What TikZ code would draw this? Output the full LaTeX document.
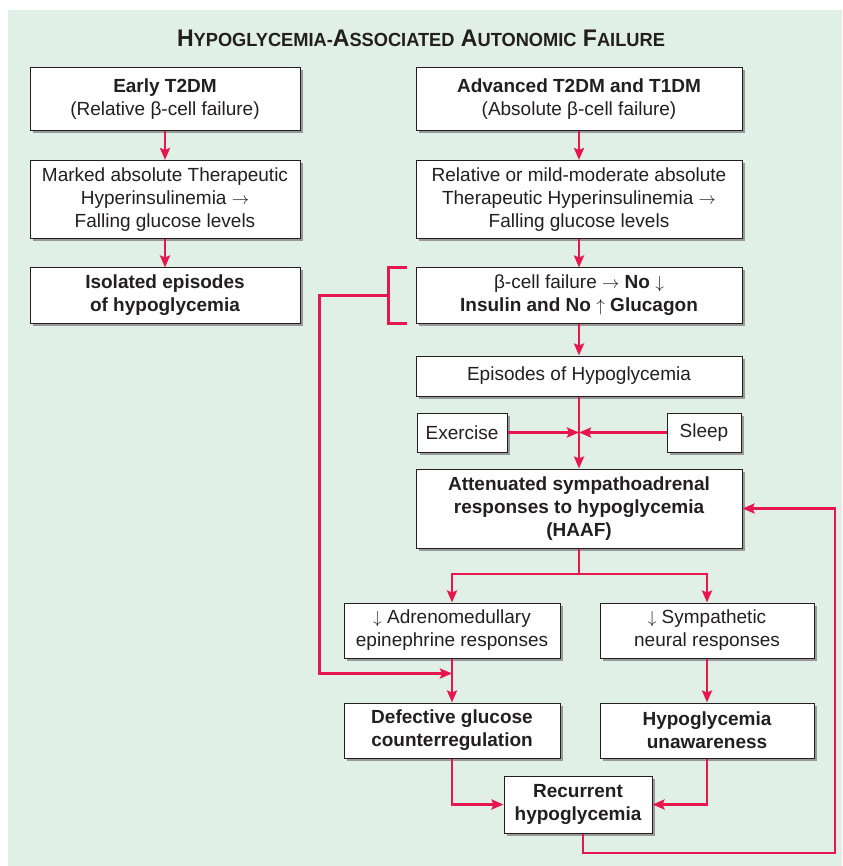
\documentclass[tikz,border=0pt]{standalone}
\usepackage{amsmath}
\usepackage{amssymb}
\usepackage{graphicx}
\usepackage{fontspec}
\setmainfont{Liberation Sans}
\usepackage{tikz}
\usetikzlibrary{arrows.meta, calc, shadows}

\definecolor{bggreen}{RGB}{225,240,230}
\definecolor{linkred}{RGB}{232,22,78}
\definecolor{inkgray}{RGB}{35,31,32}
\newcommand{\titlesmall}[1]{{\fontsize{19}{22}\selectfont #1}}

\begin{document}
\begin{tikzpicture}[x=1pt, y=-1pt,
    every node/.style={text=inkgray, font=\fontsize{19}{23}\selectfont},
    box/.style={draw=inkgray, fill=white, line width=1pt, align=center, inner sep=0pt,
        drop shadow={shadow xshift=2.5pt, shadow yshift=-2.5pt, fill=gray!80, opacity=1}},
    link/.style={draw=linkred, line width=2.6pt},
    arr/.style={link, -{Stealth[length=12pt, width=10pt, inset=2pt]}}]

    % Canvas and background panel
    \useasboundingbox (0,0) rectangle (842,866);
    \fill[bggreen] (8,10) rectangle (842,866);

    % Title
    \node (title) at (421,38) {\scalebox{0.96}[1]{\fontsize{24}{28}\selectfont\bfseries
        H\titlesmall{YPOGLYCEMIA-}A\titlesmall{SSOCIATED} A\titlesmall{UTONOMIC} F\titlesmall{AILURE}}};

    % Left column (early T2DM)
    \node[box, minimum width=270, minimum height=63] (early) at (165,99)
        {\textbf{Early T2DM}\\(Relative β-cell failure)};
    \node[box, minimum width=270, minimum height=78] (marked) at (165,199.5)
        {Marked absolute Therapeutic\\Hyperinsulinemia $\rightarrow$\\Falling glucose levels};
    \node[box, minimum width=270, minimum height=55, font=\fontsize{19}{23}\selectfont\bfseries] (isolated) at (165,295.5)
        {Isolated episodes\\of hypoglycemia};

    % Right column (advanced T2DM and T1DM)
    \node[box, minimum width=326, minimum height=63] (advanced) at (579,99)
        {\textbf{Advanced T2DM and T1DM}\\(Absolute β-cell failure)};
    \node[box, minimum width=326, minimum height=78] (relative) at (579,199.5)
        {Relative or mild-moderate absolute\\Therapeutic Hyperinsulinemia $\rightarrow$\\Falling glucose levels};
    \node[box, minimum width=326, minimum height=55] (betafail) at (579,295.5)
        {β-cell failure $\rightarrow$ \textbf{No} $\downarrow$\\\textbf{Insulin and No} $\uparrow$ \textbf{Glucagon}};
    \node[box, minimum width=326, minimum height=40] (episodes) at (579,376)
        {Episodes of Hypoglycemia};
    \node[box, minimum width=90, minimum height=39] (exercise) at (462,432.5) {Exercise};
    \node[box, minimum width=74, minimum height=39] (sleep) at (704,432.5) {Sleep};
    \node[box, minimum width=326, minimum height=79, font=\fontsize{19}{23}\selectfont\bfseries] (haaf) at (579,508.5)
        {Attenuated sympathoadrenal\\responses to hypoglycemia\\(HAAF)};

    % Split responses
    \node[box, minimum width=216, minimum height=55] (adreno) at (452,630.5)
        {$\downarrow$ Adrenomedullary\\epinephrine responses};
    \node[box, minimum width=214, minimum height=55] (sympa) at (707,630.5)
        {$\downarrow$ Sympathetic\\neural responses};
    \node[box, minimum width=216, minimum height=55, font=\fontsize{19}{23}\selectfont\bfseries] (defective) at (452,730.5)
        {Defective glucose\\counterregulation};
    \node[box, minimum width=214, minimum height=55, font=\fontsize{19}{23}\selectfont\bfseries] (unaware) at (707,730.5)
        {Hypoglycemia\\unawareness};
    \node[box, minimum width=148, minimum height=57, font=\fontsize{19}{23}\selectfont\bfseries] (recurrent) at (578,804.5)
        {Recurrent\\hypoglycemia};

    % Helper points
    \coordinate (meet) at (episodes.south |- exercise.east);
    \coordinate (split) at (579,574);
    \coordinate (join) at ($(adreno.south)+(0,15)$);
    \coordinate (loop) at (835,853);

    % Connectors
    \draw[arr] (early) -- (marked);
    \draw[arr] (marked) -- (isolated);
    \draw[arr] (advanced) -- (relative);
    \draw[arr] (relative) -- (betafail);
    \draw[arr] (betafail) -- (episodes);
    \draw[arr] (episodes) -- (haaf);
    \draw[arr] (exercise.east) -- (meet);
    \draw[arr] (sleep.west) -- (meet);
    \draw[link] (haaf.south) -- (split);
    \draw[arr] (split) -| (adreno.north);
    \draw[arr] (split) -| (sympa.north);
    \draw[arr] (adreno) -- (defective);
    \draw[arr] (sympa) -- (unaware);
    \draw[arr] (defective.south) |- (recurrent.west);
    \draw[arr] (unaware.south) |- (recurrent.east);
    \draw[arr] ([xshift=5pt]recurrent.south) |- (loop) |- (haaf.east);

    % Bracket from beta-cell failure
    \draw[link] ([xshift=-9pt]betafail.north west) -- ++(-18,0) |- ([xshift=-9pt]betafail.south west);
    \draw[arr] ([xshift=-27pt]betafail.west) -- ++(-69,0) |- (join);
\end{tikzpicture}
\end{document}
